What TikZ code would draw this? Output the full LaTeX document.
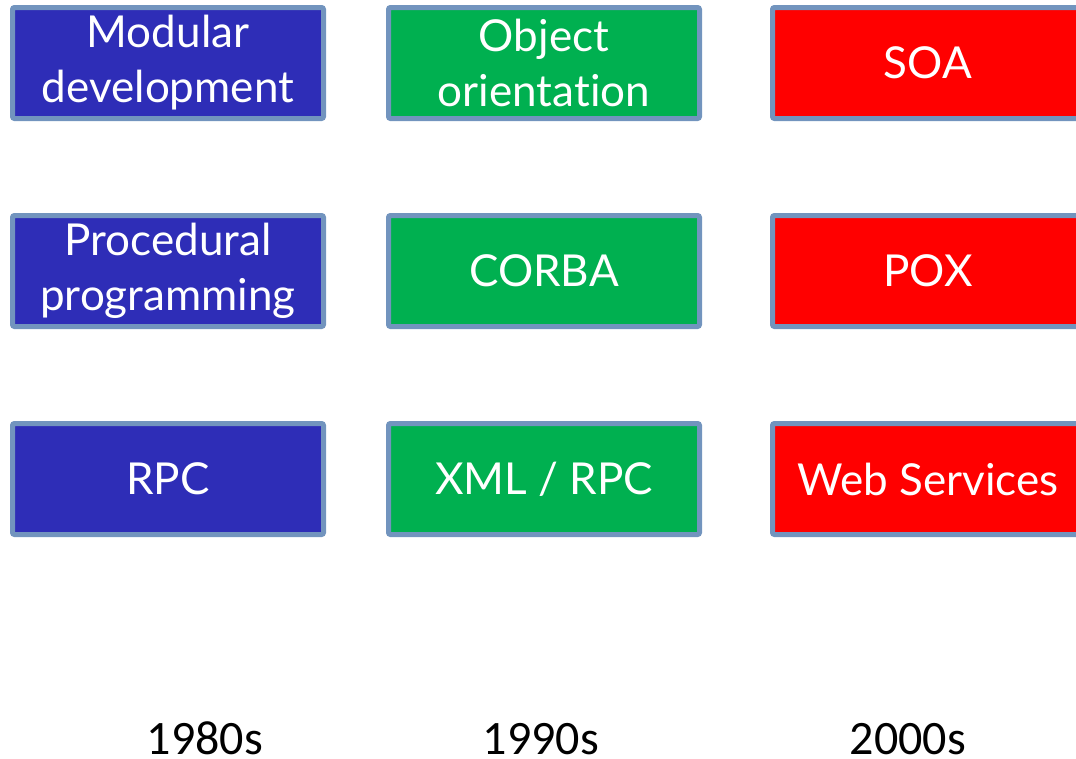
\documentclass[tikz,border=0pt]{standalone}
\usepackage{fontspec}
\setmainfont{Lato}[Ligatures=NoCommon]
\newfontfamily\yearfont{Carlito}
\definecolor{boxblue}{RGB}{46,45,183}
\definecolor{boxgreen}{RGB}{0,176,80}
\definecolor{boxred}{RGB}{255,0,0}
\definecolor{edgeblue}{RGB}{114,148,190}
\begin{document}
\begin{tikzpicture}[x=1pt,y=-1pt,
  era/.style={draw=edgeblue, line width=5pt, rounded corners=2pt,
    minimum width=311pt, minimum height=111pt, inner sep=0pt,
    text=white, align=center, font=\fontsize{44}{55}\selectfont},
  year/.style={font=\yearfont\fontsize{48}{52}\selectfont, anchor=base}]
\useasboundingbox (0,0) rectangle (1076,758);
\clip (0,0) rectangle (1076,758);
% 1980s column
\node[era, fill=boxblue] (mod) at (168,63) {Modular\\development};
\node[era, fill=boxblue] (proc) at (168,271) {Procedural\\programming};
\node[era, fill=boxblue] (rpc) at (168,479) {RPC};
% 1990s column
\node[era, fill=boxgreen] (oo) at (544,63) {Object\\orientation};
\node[era, fill=boxgreen] (corba) at (544,271) {CORBA};
\node[era, fill=boxgreen] (xmlrpc) at (544,479) {XML / RPC};
% 2000s column
\node[era, fill=boxred] (soa) at (928,63) {SOA};
\node[era, fill=boxred] (pox) at (928,271) {POX};
\node[era, fill=boxred] (ws) at (928,479) {Web Services};
% decade labels
\node[year] (y80) at (205,754) {1980s};
\node[year] (y90) at (541,754) {1990s};
\node[year] (y00) at (908,754) {2000s};
\end{tikzpicture}
\end{document}
